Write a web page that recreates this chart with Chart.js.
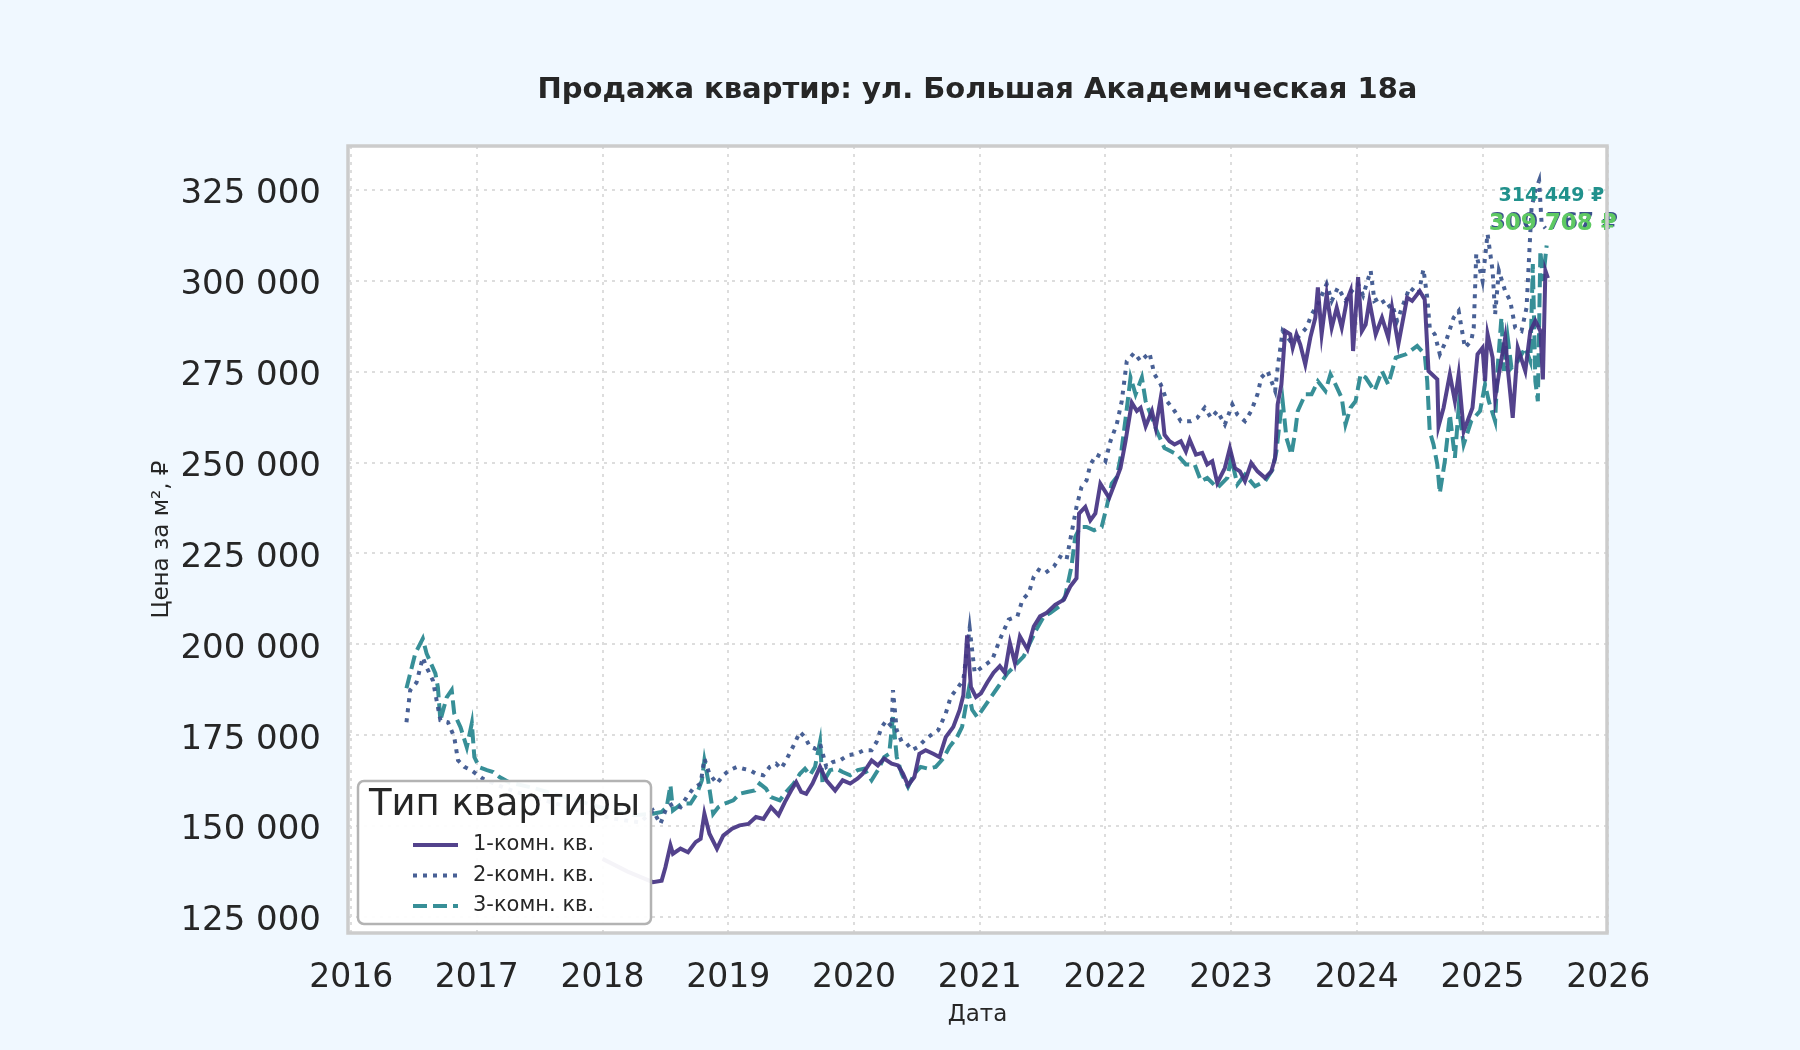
<!DOCTYPE html>
<html lang="ru">
<head>
<meta charset="utf-8">
<title>Продажа квартир</title>
<script src="https://cdn.jsdelivr.net/npm/chart.js@4.4.1/dist/chart.umd.min.js"></script>
<style>
  html, body { margin: 0; padding: 0; background: #f0f8ff; }
  canvas { display: block; }
</style>
</head>
<body>
<canvas id="chart" width="1800" height="1050"></canvas>
<script>
  const chartTitle = 'Продажа квартир: ул. Большая Академическая 18а';
  const seriesNames = ['1-комн. кв.', '2-комн. кв.', '3-комн. кв.'];
  const yTicks = [125000, 150000, 175000, 200000, 225000, 250000, 275000, 300000, 325000];
  const xTicks = [2016, 2017, 2018, 2019, 2020, 2021, 2022, 2023, 2024, 2025, 2026];

  // 1-комн. кв.
  const dates1 = [
    2018.00, 2018.20, 2018.40, 2018.47, 2018.50, 2018.54, 2018.56, 2018.62, 2018.68, 2018.74,
    2018.78, 2018.81, 2018.85, 2018.91, 2018.96, 2019.03, 2019.09, 2019.16, 2019.22, 2019.28,
    2019.34, 2019.40, 2019.45, 2019.50, 2019.54, 2019.58, 2019.62, 2019.67, 2019.73, 2019.78,
    2019.85, 2019.91, 2019.97, 2020.03, 2020.07, 2020.14, 2020.19, 2020.24, 2020.30, 2020.35,
    2020.39, 2020.43, 2020.48, 2020.52, 2020.57, 2020.63, 2020.68, 2020.73, 2020.79, 2020.84,
    2020.87, 2020.90, 2020.93, 2020.97, 2021.01, 2021.06, 2021.11, 2021.16, 2021.20, 2021.24,
    2021.28, 2021.32, 2021.38, 2021.43, 2021.48, 2021.53, 2021.60, 2021.67, 2021.72, 2021.77,
    2021.79, 2021.84, 2021.88, 2021.92, 2021.96, 2022.01, 2022.03, 2022.07, 2022.12, 2022.16,
    2022.21, 2022.25, 2022.28, 2022.32, 2022.37, 2022.40, 2022.44, 2022.47, 2022.51, 2022.55,
    2022.60, 2022.64, 2022.67, 2022.72, 2022.77, 2022.81, 2022.85, 2022.89, 2022.95, 2022.99,
    2023.03, 2023.07, 2023.11, 2023.16, 2023.21, 2023.27, 2023.32, 2023.35, 2023.37, 2023.40,
    2023.43, 2023.47, 2023.49, 2023.52, 2023.55, 2023.59, 2023.63, 2023.67, 2023.69, 2023.72,
    2023.76, 2023.80, 2023.84, 2023.88, 2023.92, 2023.95, 2023.97, 2024.01, 2024.04, 2024.07,
    2024.10, 2024.15, 2024.20, 2024.25, 2024.28, 2024.33, 2024.40, 2024.44, 2024.50, 2024.54,
    2024.57, 2024.64, 2024.65, 2024.69, 2024.74, 2024.78, 2024.81, 2024.85, 2024.92, 2024.96,
    2025.00, 2025.02, 2025.04, 2025.08, 2025.10, 2025.13, 2025.18, 2025.20, 2025.24, 2025.28,
    2025.34, 2025.38, 2025.42, 2025.46, 2025.48, 2025.50, 2025.52
  ];
  const prices1 = [
    141000, 137500, 134600, 135000, 138700, 144700, 142400, 143800, 142800, 145600,
    146500, 153400, 147900, 143800, 147400, 149300, 150200, 150600, 152500, 152000,
    155200, 153000, 156600, 159800, 162100, 159400, 158900, 161700, 166300, 162600,
    159800, 162600, 161700, 163100, 164400, 168100, 166700, 168600, 167200, 166700,
    164400, 161200, 163500, 169900, 170900, 169900, 169000, 174500, 177300, 181900,
    186000, 202500, 188300, 185500, 186500, 189500, 192200, 194000, 192200, 200400,
    194900, 202200, 198600, 204900, 207700, 208600, 210900, 212300, 215900, 218200,
    236000, 237800, 234100, 236000, 244200, 241400, 240300, 243900, 248500, 255900,
    266500, 264200, 265100, 260000, 264200, 259600, 267800, 257700, 255900, 255000,
    255900, 253100, 256300, 252200, 252700, 249500, 250400, 244400, 248500, 254000,
    248500, 247600, 244900, 249900, 247600, 245800, 247600, 251300, 266000, 271500,
    286200, 285300, 281600, 285300, 282500, 277000, 284400, 289900, 298200, 285300,
    296300, 287100, 292600, 287100, 294500, 297200, 280700, 301000, 286200, 288000,
    294500, 285300, 289900, 284400, 292600, 282500, 295400, 294500, 297200, 294900,
    275200, 272900, 260000, 265100, 274300, 266900, 274300, 258600, 265100, 279800,
    281600, 272400, 285300, 278900, 267800, 274300, 284400, 276100, 262300, 281600,
    275200, 286200, 289000, 286200, 272900, 302800, 300767
  ];

  // 2-комн. кв.
  const dates2 = [
    2016.44, 2016.47, 2016.52, 2016.57, 2016.60, 2016.65, 2016.71, 2016.77, 2016.82, 2016.85,
    2016.90, 2016.95, 2017.05, 2017.15, 2017.30, 2017.50, 2017.70, 2017.90, 2018.10, 2018.30,
    2018.40, 2018.46, 2018.51, 2018.56, 2018.62, 2018.67, 2018.72, 2018.78, 2018.81, 2018.85,
    2018.91, 2018.96, 2019.01, 2019.07, 2019.12, 2019.17, 2019.22, 2019.28, 2019.33, 2019.38,
    2019.42, 2019.46, 2019.52, 2019.57, 2019.61, 2019.65, 2019.69, 2019.73, 2019.78, 2019.83,
    2019.89, 2019.95, 2020.02, 2020.08, 2020.14, 2020.18, 2020.22, 2020.26, 2020.30, 2020.31,
    2020.34, 2020.38, 2020.42, 2020.46, 2020.51, 2020.56, 2020.61, 2020.67, 2020.73, 2020.77,
    2020.83, 2020.87, 2020.92, 2020.96, 2021.03, 2021.10, 2021.16, 2021.23, 2021.30, 2021.34,
    2021.39, 2021.43, 2021.47, 2021.52, 2021.59, 2021.64, 2021.69, 2021.73, 2021.77, 2021.81,
    2021.85, 2021.88, 2021.93, 2021.97, 2022.00, 2022.04, 2022.09, 2022.13, 2022.17, 2022.23,
    2022.28, 2022.35, 2022.39, 2022.44, 2022.49, 2022.55, 2022.60, 2022.68, 2022.73, 2022.79,
    2022.84, 2022.89, 2022.95, 2023.01, 2023.05, 2023.11, 2023.16, 2023.21, 2023.24, 2023.29,
    2023.35, 2023.37, 2023.41, 2023.47, 2023.53, 2023.60, 2023.64, 2023.69, 2023.76, 2023.80,
    2023.85, 2023.91, 2023.96, 2024.01, 2024.05, 2024.11, 2024.14, 2024.19, 2024.24, 2024.28,
    2024.32, 2024.42, 2024.49, 2024.53, 2024.56, 2024.58, 2024.62, 2024.66, 2024.71, 2024.77,
    2024.81, 2024.86, 2024.91, 2024.93, 2024.95, 2025.00, 2025.04, 2025.08, 2025.10, 2025.13,
    2025.18, 2025.22, 2025.26, 2025.31, 2025.35, 2025.39, 2025.42, 2025.45, 2025.47, 2025.50
  ];
  const prices2 = [
    178600, 187400, 189500, 196400, 193700, 190100, 179100, 178600, 174500, 168100,
    166300, 165500, 163000, 161500, 159500, 157500, 155500, 153500, 152000, 151000,
    154300, 150600, 155200, 156200, 155200, 158000, 160300, 161700, 168600, 164400,
    161700, 164000, 165400, 166300, 165800, 165400, 164400, 164000, 166300, 167200,
    165800, 168100, 172200, 175900, 174500, 171800, 171300, 172700, 166300, 167600,
    168100, 169500, 169900, 170900, 170900, 173200, 177300, 179100, 177300, 187400,
    176400, 173200, 172700, 170900, 171800, 173600, 175000, 176400, 181000, 185600,
    188300, 190300, 204500, 192200, 194000, 195800, 201300, 206800, 207700, 212300,
    214100, 218600, 220500, 219600, 221400, 224100, 223200, 230500, 237800, 243300,
    245100, 249500, 252200, 251500, 250400, 255900, 260500, 266900, 277900, 280200,
    277900, 280200, 274300, 271500, 266900, 264200, 261400, 261400, 262300, 265100,
    262300, 264200, 260500, 266000, 263200, 261400, 264200, 268800, 273400, 275200,
    269700, 276100, 286200, 283500, 284400, 287100, 290800, 293600, 299100, 294500,
    298200, 294500, 297200, 299100, 296000, 302800, 294500, 295400, 292600, 293600,
    289000, 298200, 296300, 303200, 295400, 287100, 285300, 279800, 283500, 289900,
    291700, 281600, 283500, 287100, 307400, 300000, 312900, 302800, 290800, 302800,
    297200, 294500, 287100, 286200, 292600, 320200, 324800, 327600, 315700, 314449
  ];

  // 3-комн. кв.
  const dates3 = [
    2016.44, 2016.51, 2016.57, 2016.60, 2016.67, 2016.69, 2016.71, 2016.76, 2016.80, 2016.82,
    2016.87, 2016.92, 2016.96, 2016.98, 2017.02, 2017.08, 2017.13, 2017.18, 2017.26, 2017.45,
    2017.65, 2017.85, 2018.05, 2018.25, 2018.40, 2018.47, 2018.51, 2018.54, 2018.56, 2018.63,
    2018.70, 2018.75, 2018.79, 2018.81, 2018.84, 2018.88, 2018.92, 2018.97, 2019.04, 2019.09,
    2019.15, 2019.21, 2019.25, 2019.30, 2019.34, 2019.41, 2019.46, 2019.52, 2019.57, 2019.61,
    2019.65, 2019.69, 2019.73, 2019.75, 2019.81, 2019.86, 2019.91, 2019.97, 2020.03, 2020.08,
    2020.14, 2020.19, 2020.24, 2020.28, 2020.31, 2020.34, 2020.38, 2020.43, 2020.48, 2020.53,
    2020.59, 2020.65, 2020.71, 2020.76, 2020.82, 2020.86, 2020.91, 2020.94, 2020.98, 2021.06,
    2021.14, 2021.22, 2021.30, 2021.35, 2021.40, 2021.45, 2021.51, 2021.56, 2021.63, 2021.68,
    2021.73, 2021.76, 2021.80, 2021.85, 2021.91, 2021.97, 2022.01, 2022.05, 2022.09, 2022.12,
    2022.16, 2022.20, 2022.24, 2022.29, 2022.32, 2022.37, 2022.41, 2022.47, 2022.52, 2022.57,
    2022.64, 2022.71, 2022.76, 2022.81, 2022.89, 2022.97, 2023.00, 2023.05, 2023.11, 2023.19,
    2023.27, 2023.33, 2023.36, 2023.39, 2023.41, 2023.44, 2023.48, 2023.51, 2023.53, 2023.59,
    2023.64, 2023.69, 2023.75, 2023.79, 2023.83, 2023.88, 2023.91, 2023.95, 2023.99, 2024.03,
    2024.07, 2024.14, 2024.20, 2024.25, 2024.31, 2024.39, 2024.48, 2024.54, 2024.56, 2024.58,
    2024.61, 2024.64, 2024.66, 2024.70, 2024.74, 2024.78, 2024.81, 2024.85, 2024.91, 2024.98,
    2025.02, 2025.05, 2025.10, 2025.12, 2025.15, 2025.17, 2025.20, 2025.23, 2025.28, 2025.34,
    2025.38, 2025.40, 2025.42, 2025.44, 2025.46, 2025.48, 2025.51
  ];
  const prices3 = [
    187900, 197500, 201600, 197500, 192000, 188200, 179100, 185400, 187400, 181000,
    177200, 171700, 178300, 169000, 166200, 165400, 164900, 163500, 162000, 160500,
    158500, 156500, 154500, 153000, 153400, 153900, 155200, 161200, 154300, 156200,
    156200, 158900, 162600, 168100, 162600, 153400, 155200, 156200, 157100, 158900,
    159400, 159800, 161700, 160300, 158000, 157100, 159400, 161700, 164400, 165800,
    164000, 166300, 173200, 161700, 165400, 165800, 164900, 164000, 165400, 165800,
    162600, 165400, 169000, 169900, 180000, 169000, 164400, 160800, 164400, 166300,
    165800, 166300, 168600, 171800, 174500, 177300, 187000, 182000, 180000, 184000,
    188000, 192000, 194900, 196700, 200400, 204000, 207700, 208600, 210400, 213200,
    221400, 229600, 232300, 232300, 231400, 232300, 237800, 244200, 246000, 251300,
    262000, 273400, 268800, 273400, 266900, 262300, 258600, 254000, 253100, 252200,
    249500, 249500, 244900, 245800, 243000, 245800, 251300, 244000, 246700, 243500,
    244900, 248100, 253100, 262300, 266900, 256800, 252200, 258600, 264200, 268800,
    268800, 272400, 269700, 274300, 271500, 267800, 260500, 265100, 266900, 274300,
    273400, 269700, 275200, 271500, 278900, 279800, 282100, 279800, 272400, 258600,
    255000, 249500, 241600, 250400, 263200, 251300, 265100, 255000, 261400, 264200,
    271500, 266900, 261400, 276100, 289900, 275200, 284400, 276100, 277900, 281600,
    277900, 304600, 272400, 266900, 308300, 300000, 309708
  ];

  const seriesDates = [dates1, dates2, dates3];
  const seriesPrices = [prices1, prices2, prices3];
  const seriesColors = ['rgba(68,50,130,0.92)', 'rgba(56,82,140,0.92)', 'rgba(38,134,142,0.92)'];
  const seriesDash = [[], [4, 6], [14, 6]];
  // цвета подписей последних значений
  const labelColors = ['#3b528b', '#21918c', '#5ec962'];

  const fontFamily = "'DejaVu Sans', sans-serif";
  Chart.defaults.font.family = fontFamily;
  Chart.defaults.color = '#262626';

  function fmt(v) {
    return String(Math.round(v)).replace(/\B(?=(\d{3})+(?!\d))/g, ' ');
  }

  const datasets = seriesNames.map((name, i) => ({
    label: name,
    data: seriesDates[i].map((d, j) => ({ x: d, y: seriesPrices[i][j] })),
    borderColor: seriesColors[i],
    borderWidth: 4,
    borderDash: seriesDash[i],
    pointRadius: 0,
    tension: 0,
    fill: false
  }));

  const plotBackground = {
    id: 'plotBackground',
    beforeDraw(chart) {
      const { ctx, chartArea: a } = chart;
      ctx.save();
      ctx.fillStyle = '#ffffff';
      ctx.fillRect(a.left, a.top, a.right - a.left, a.bottom - a.top);
      // заголовок по центру области графика
      ctx.fillStyle = '#262626';
      ctx.font = `bold 29px ${fontFamily}`;
      ctx.textAlign = 'center';
      ctx.textBaseline = 'middle';
      ctx.fillText(chartTitle, (a.left + a.right) / 2, 90);
      ctx.restore();
    }
  };

  const lastLabels = {
    id: 'lastLabels',
    afterDatasetsDraw(chart) {
      const { ctx, scales } = chart;
      const specs = [
        { i: 0, size: 23, dy: -55 },
        { i: 2, size: 23, dy: -22 },
        { i: 1, size: 19, dy: -32 }
      ];
      ctx.save();
      ctx.textAlign = 'center';
      ctx.textBaseline = 'middle';
      specs.forEach(s => {
        const d = seriesDates[s.i];
        const p = seriesPrices[s.i];
        const v = p[p.length - 1];
        const x = scales.x.getPixelForValue(d[d.length - 1]) + 6;
        const y = scales.y.getPixelForValue(v) + s.dy;
        ctx.font = `bold ${s.size}px ${fontFamily}`;
        ctx.fillStyle = labelColors[s.i];
        ctx.fillText(fmt(v) + ' ₽', x, y);
      });
      ctx.restore();
    }
  };

  const frameAndLegend = {
    id: 'frameAndLegend',
    afterDraw(chart) {
      const { ctx, chartArea: a } = chart;
      ctx.save();
      ctx.strokeStyle = '#cccccc';
      ctx.lineWidth = 3.5;
      ctx.strokeRect(a.left, a.top, a.right - a.left, a.bottom - a.top);

      // легенда
      const bx = a.left + 10, by = a.bottom - 152, bw = 293, bh = 143;
      ctx.beginPath();
      ctx.roundRect(bx, by, bw, bh, 6);
      ctx.fillStyle = 'rgba(255,255,255,0.94)';
      ctx.fill();
      ctx.strokeStyle = '#b3b3b3';
      ctx.lineWidth = 2.5;
      ctx.stroke();

      ctx.fillStyle = '#262626';
      ctx.textBaseline = 'middle';
      ctx.textAlign = 'center';
      ctx.font = `37px ${fontFamily}`;
      ctx.fillText('Тип квартиры', bx + bw / 2, by + 24);

      ctx.textAlign = 'left';
      ctx.font = `21px ${fontFamily}`;
      seriesNames.forEach((name, i) => {
        const yy = by + 64 + i * 30.5;
        ctx.beginPath();
        ctx.strokeStyle = seriesColors[i];
        ctx.lineWidth = 4;
        ctx.setLineDash(seriesDash[i]);
        ctx.moveTo(bx + 55, yy);
        ctx.lineTo(bx + 100, yy);
        ctx.stroke();
        ctx.setLineDash([]);
        ctx.fillStyle = '#262626';
        ctx.fillText(name, bx + 115, yy);
      });
      ctx.restore();
    }
  };

  new Chart(document.getElementById('chart'), {
    type: 'line',
    data: { datasets },
    options: {
      responsive: false,
      animation: false,
      devicePixelRatio: 1,
      layout: { padding: { left: 0, right: 193, top: 146, bottom: 0 } },
      plugins: {
        legend: { display: false },
        tooltip: { enabled: false },
        title: { display: false }
      },
      scales: {
        x: {
          type: 'linear',
          min: 2015.975,
          max: 2025.99,
          afterBuildTicks(scale) { scale.ticks = xTicks.map(v => ({ value: v })); },
          afterFit(scale) { scale.height = 117; },
          ticks: { font: { size: 33 }, padding: 26, color: '#262626', callback: v => String(v) },
          grid: { color: '#dddddd', lineWidth: 2, drawTicks: false },
          border: { display: false, dash: [3, 5] },
          title: {
            display: true, text: 'Дата', color: '#262626',
            font: { size: 23 }, padding: { top: 0, bottom: 21 }
          }
        },
        y: {
          type: 'linear',
          min: 120600,
          max: 337100,
          afterBuildTicks(scale) { scale.ticks = yTicks.map(v => ({ value: v })); },
          afterFit(scale) { scale.width = 348; },
          ticks: { font: { size: 34 }, padding: 27, labelOffset: 4.5, color: '#262626', callback: v => fmt(v) },
          grid: { color: '#dddddd', lineWidth: 2, drawTicks: false },
          border: { display: false, dash: [3, 5] },
          title: {
            display: true, text: 'Цена за м², ₽', color: '#262626',
            font: { size: 23 }, padding: { top: 148, bottom: 0 }
          }
        }
      }
    },
    plugins: [plotBackground, lastLabels, frameAndLegend]
  });
</script>
</body>
</html>
